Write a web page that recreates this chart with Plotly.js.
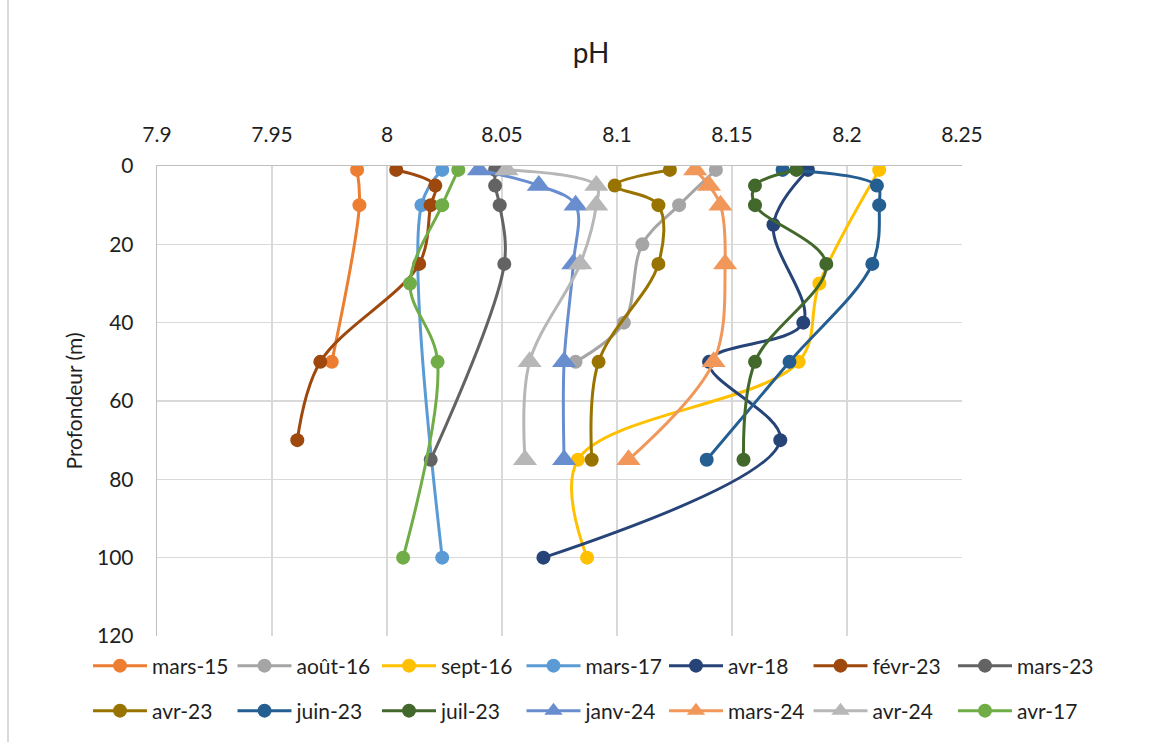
<!DOCTYPE html>
<html>
<head>
<meta charset="utf-8">
<script src="https://cdn.plot.ly/plotly-3.0.1.min.js"></script>
<style>
html,body{margin:0;padding:0;background:#fff;}
#chart{width:1164px;height:742px;}
</style>
</head>
<body>
<div id="chart"></div>
<script>
// Series names (legend order)
const seriesNames = ["mars-15","août-16","sept-16","mars-17","avr-18","févr-23","mars-23",
                     "avr-23","juin-23","juil-23","janv-24","mars-24","avr-24","avr-17"];

// Depths (m) for each series
const depth_mars15 = [1, 10, 50];
const depth_aout16 = [1, 10, 20, 40, 50];
const depth_sept16 = [1, 30, 50, 75, 100];
const depth_mars17 = [1, 10, 100];
const depth_avr18  = [1, 15, 40, 50, 70, 100];
const depth_fevr23 = [1, 5, 10, 25, 50, 70];
const depth_mars23 = [1, 5, 10, 25, 75];
const depth_avr23  = [1, 5, 10, 25, 50, 75];
const depth_juin23 = [1, 5, 10, 25, 50, 75];
const depth_juil23 = [1, 5, 10, 25, 50, 75];
const depth_janv24 = [1, 5, 10, 25, 50, 75];
const depth_mars24 = [1, 5, 10, 25, 50, 75];
const depth_avr24  = [1, 5, 10, 25, 50, 75];
const depth_avr17  = [1, 10, 30, 50, 100];

// pH values for each series
const ph_mars15 = [7.987, 7.988, 7.976];
const ph_aout16 = [8.143, 8.127, 8.111, 8.103, 8.082];
const ph_sept16 = [8.214, 8.188, 8.179, 8.083, 8.087];
const ph_mars17 = [8.024, 8.015, 8.024];
const ph_avr18  = [8.183, 8.168, 8.181, 8.140, 8.171, 8.068];
const ph_fevr23 = [8.004, 8.021, 8.019, 8.014, 7.971, 7.961];
const ph_mars23 = [8.047, 8.047, 8.049, 8.051, 8.019];
const ph_avr23  = [8.123, 8.099, 8.118, 8.118, 8.092, 8.089];
const ph_juin23 = [8.172, 8.213, 8.214, 8.211, 8.175, 8.139];
const ph_juil23 = [8.178, 8.160, 8.160, 8.191, 8.160, 8.155];
const ph_janv24 = [8.040, 8.066, 8.082, 8.081, 8.077, 8.077];
const ph_mars24 = [8.134, 8.140, 8.145, 8.147, 8.142, 8.105];
const ph_avr24  = [8.052, 8.091, 8.091, 8.084, 8.062, 8.060];
const ph_avr17  = [8.031, 8.024, 8.010, 8.022, 8.007];

const seriesColors = ["#ED7D31","#A5A5A5","#FFC000","#5B9BD5","#264478","#9E480E","#636363",
                      "#997300","#255E91","#43682B","#698ED0","#F1975A","#B7B7B7","#70AD47"];
const seriesSymbols = ["circle","circle","circle","circle","circle","circle","circle",
                       "circle","circle","circle","triangle-up","triangle-up","triangle-up","circle"];
// which legend block each series goes to (2 rows, each split in two blocks)
const seriesLegend = ["legend","legend","legend","legend","legend2","legend2","legend2",
                      "legend3","legend3","legend3","legend3","legend4","legend4","legend4"];

const xTickVals = [7.9, 7.95, 8, 8.05, 8.1, 8.15, 8.2, 8.25];
const xTickText = ["7.9","7.95","8","8.05","8.1","8.15","8.2","8.25"];
const yTickVals = [0, 20, 40, 60, 80, 100, 120];

const allDepths = [depth_mars15, depth_aout16, depth_sept16, depth_mars17, depth_avr18, depth_fevr23, depth_mars23,
                   depth_avr23, depth_juin23, depth_juil23, depth_janv24, depth_mars24, depth_avr24, depth_avr17];
const allPH = [ph_mars15, ph_aout16, ph_sept16, ph_mars17, ph_avr18, ph_fevr23, ph_mars23,
               ph_avr23, ph_juin23, ph_juil23, ph_janv24, ph_mars24, ph_avr24, ph_avr17];

const FONT = "Lato, 'Open Sans', sans-serif";
const TXT = "#1f1f1f";

const traces = seriesNames.map((name, i) => ({
  type: "scatter",
  mode: "lines+markers",
  name: name,
  x: allPH[i],
  y: allDepths[i],
  legend: seriesLegend[i],
  line: {color: seriesColors[i], width: 3, shape: "spline", smoothing: 1},
  marker: {color: seriesColors[i], symbol: seriesSymbols[i],
           size: seriesSymbols[i] === "circle" ? 14 : 21},
  hoverinfo: "skip"
}));

// plot area in pixels: left 157, right 962, top 166, bottom 636
const PL = 157, PW = 805, PB = 636, PH = 470;
const px2x = p => (p - PL) / PW;
const px2y = p => (PB - p) / PH;

const legendCommon = {
  orientation: "h",
  xanchor: "left",
  yanchor: "middle",
  font: {family: FONT, size: 21, color: TXT},
  itemwidth: 54,
  entrywidth: 75.5,
  bgcolor: "rgba(0,0,0,0)",
  borderwidth: 0,
  tracegroupgap: 0
};

const row1Y = px2y(666), row2Y = px2y(711);
const colA = px2x(88), colB = px2x(664);

const layout = {
  width: 1164,
  height: 742,
  paper_bgcolor: "#ffffff",
  plot_bgcolor: "#ffffff",
  margin: {l: 157, r: 202, t: 166, b: 106, pad: 0, autoexpand: false},
  font: {family: FONT, size: 21, color: TXT},
  title: {
    text: "pH",
    font: {family: FONT, size: 28, color: TXT},
    xref: "container", x: 591/1164, xanchor: "center",
    yref: "container", y: 1 - 53/742, yanchor: "middle"
  },
  xaxis: {
    side: "top",
    range: [7.9, 8.25],
    tickmode: "array",
    tickvals: xTickVals,
    ticktext: xTickText,
    showgrid: true,
    gridcolor: "#D9D9D9",
    gridwidth: 1.3,
    zeroline: false,
    showline: true,
    linecolor: "#BFBFBF",
    linewidth: 1.3,
    ticks: "",
    ticklabelstandoff: 14,
    tickfont: {family: FONT, size: 21, color: TXT}
  },
  yaxis: {
    range: [120, 0],
    tickmode: "array",
    tickvals: yTickVals,
    showgrid: true,
    gridcolor: "#D9D9D9",
    gridwidth: 1.3,
    zeroline: false,
    showline: true,
    linecolor: "#BFBFBF",
    linewidth: 1.3,
    ticks: "",
    ticklabelstandoff: 18,
    tickfont: {family: FONT, size: 21, color: TXT},
    title: {text: "Profondeur (m)", font: {family: FONT, size: 21, color: TXT}, standoff: 8}
  },
  legend:  Object.assign({}, legendCommon, {x: colA, y: row1Y}),
  legend2: Object.assign({}, legendCommon, {x: colB, y: row1Y}),
  legend3: Object.assign({}, legendCommon, {x: colA, y: row2Y}),
  legend4: Object.assign({}, legendCommon, {x: colB, y: row2Y}),
  shapes: [{
    type: "line", xref: "paper", yref: "paper",
    x0: px2x(8), x1: px2x(8),
    y0: px2y(742), y1: px2y(0),
    line: {color: "#D9D9D9", width: 2}
  }],
  showlegend: true
};

Plotly.newPlot("chart", traces, layout, {displayModeBar: false, staticPlot: true});
</script>
</body>
</html>
